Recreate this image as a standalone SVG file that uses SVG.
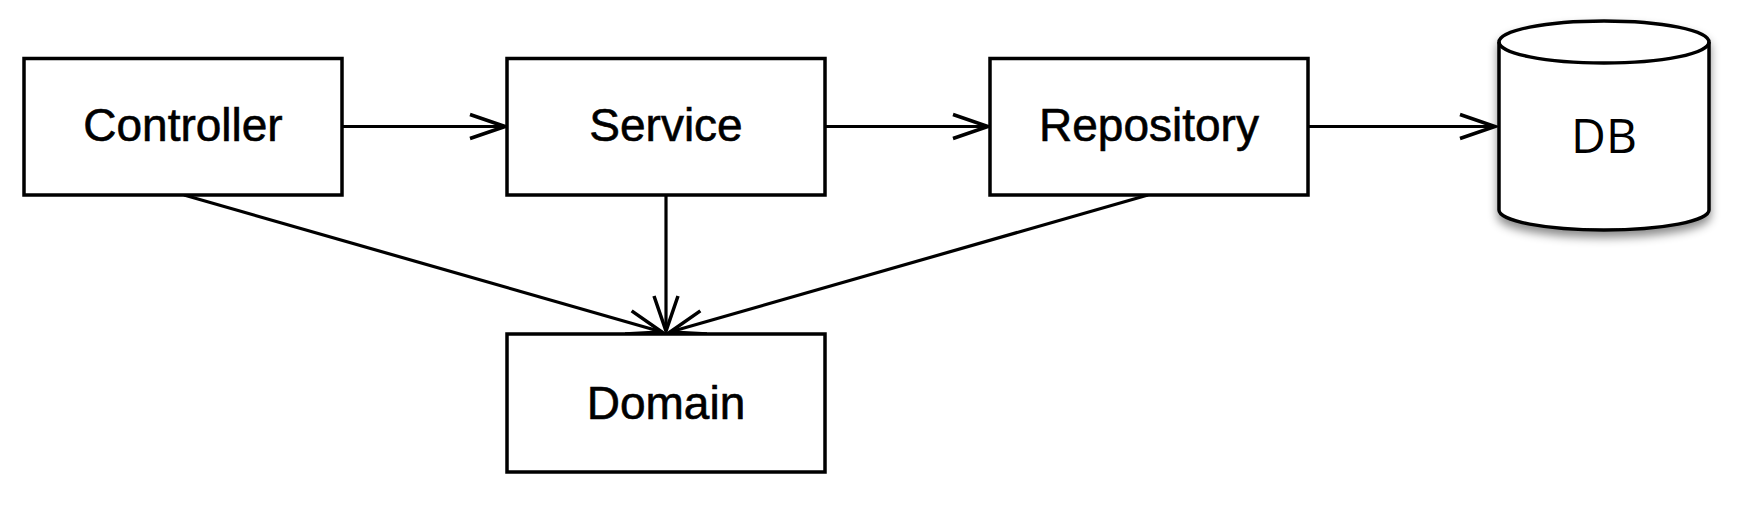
<svg xmlns="http://www.w3.org/2000/svg" width="1756" height="516" viewBox="0 0 1756 516">
<style>
.box{fill:#fff;stroke:#000;stroke-width:3.5}
.lbl{font-family:"Liberation Sans",Arial,sans-serif;font-size:46px;fill:#000;stroke:#000;stroke-width:0.6;text-anchor:middle}
.db{font-family:"Open Sans","DejaVu Sans",sans-serif;font-size:48px;fill:#000;text-anchor:middle}
.edge{fill:none;stroke:#000;stroke-width:3.2;marker-end:url(#open)}
</style>
<defs>
<marker id="open" markerUnits="userSpaceOnUse" markerWidth="50" markerHeight="40" viewBox="-40 -20 50 40" refX="0" refY="0" orient="auto">
<path d="M-35,-12 L0,0 L-35,12" fill="none" stroke="#000" stroke-width="3.5"/>
</marker>
<filter id="shadow" x="-20%" y="-20%" width="140%" height="150%">
<feDropShadow dx="0" dy="6" stdDeviation="5" flood-color="#000" flood-opacity="0.45"/>
</filter>
</defs>
<rect width="1756" height="516" fill="#fff"/>
<g id="connectors">
<line class="edge" x1="342" y1="126.5" x2="505" y2="126.5"/>
<line class="edge" x1="825" y1="126.5" x2="988" y2="126.5"/>
<line class="edge" x1="1308" y1="126.5" x2="1495" y2="126.5"/>
<line class="edge" x1="666" y1="195" x2="666" y2="331"/>
<line class="edge" x1="184" y1="195" x2="662" y2="332"/>
<line class="edge" x1="1148" y1="195" x2="670" y2="332"/>
</g>
<g id="controller">
<rect class="box" x="24" y="58.5" width="318" height="136.5"/>
<text class="lbl" x="183" y="141">Controller</text>
</g>
<g id="service">
<rect class="box" x="507" y="58.5" width="318" height="136.5"/>
<text class="lbl" x="666" y="141">Service</text>
</g>
<g id="repository">
<rect class="box" x="990" y="58.5" width="318" height="136.5"/>
<text class="lbl" x="1149" y="141">Repository</text>
</g>
<g id="domain">
<rect class="box" x="507" y="334" width="318" height="138"/>
<text class="lbl" x="666" y="419">Domain</text>
</g>
<g id="db">
<path filter="url(#shadow)" d="M1499,42 L1499,210 A105,20 0 0 0 1709,210 L1709,42 A105,21 0 0 0 1499,42 Z" fill="#fff" stroke="#000" stroke-width="3.5"/>
<path d="M1499,42 A105,21 0 0 0 1709,42" fill="none" stroke="#000" stroke-width="3.5"/>
<text class="db" x="1604" y="153">DB</text>
</g>
</svg>
